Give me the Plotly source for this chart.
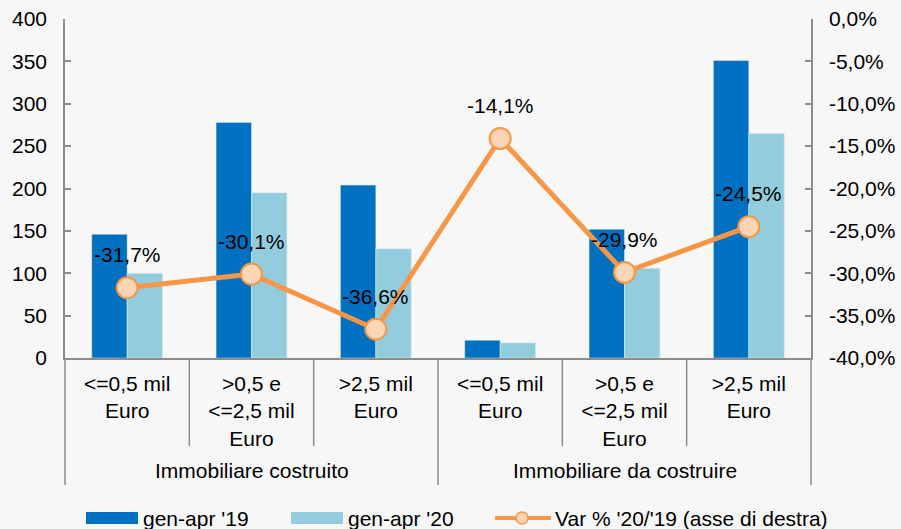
import plotly.graph_objects as go

# ---- data ----
groups = ["Immobiliare costruito", "Immobiliare da costruire"]
group_sizes = [3, 3]
subcats = ["<=0,5 mil<br>Euro", ">0,5 e<br><=2,5 mil<br>Euro", ">2,5 mil<br>Euro",
           "<=0,5 mil<br>Euro", ">0,5 e<br><=2,5 mil<br>Euro", ">2,5 mil<br>Euro"]
vals_19 = [146, 278, 204, 21, 152, 351]
vals_20 = [100, 195, 129, 18, 106, 265]
var_pct = [-31.7, -30.1, -36.6, -14.1, -29.9, -24.5]
left_ticks = [0, 50, 100, 150, 200, 250, 300, 350, 400]
right_ticks = [0, -5, -10, -15, -20, -25, -30, -35, -40]

name_19 = "gen-apr '19"
name_20 = "gen-apr '20"
name_var = "Var % '20/'19 (asse di destra)"

def fmt_pct(v):
    return f"{v:.1f}%".replace(".", ",")

x_idx = list(range(len(subcats)))

FONT = "Liberation Sans, Arial, sans-serif"
FS = 21
AX = "#8C8C8C"
DARK = "#0070C0"
LIGHT = "#93CDDD"
ORANGE = "#F79646"
PEACH = "#FCD5B4"
BG = "#F7F7F7"

# plot-area geometry (px) used to convert legend/decoration positions to paper coords
L, R, T, B = 65, 90, 19, 171
W_FIG, H_FIG = 901, 529
PW = W_FIG - L - R
PH = H_FIG - T - B

def px(xp):
    return (xp - L) / PW

def py(yp):
    return (H_FIG - B - yp) / PH

fig = go.Figure()
fig.add_trace(go.Bar(x=x_idx, y=vals_19, name=name_19, marker_color=DARK, yaxis="y"))
fig.add_trace(go.Bar(x=x_idx, y=vals_20, name=name_20, marker_color=LIGHT, yaxis="y"))
fig.add_trace(go.Scatter(
    x=x_idx, y=var_pct, name=name_var, yaxis="y2", mode="lines+markers",
    line=dict(color=ORANGE, width=5),
    marker=dict(size=21, color=PEACH, line=dict(color=ORANGE, width=2)),
))

# data labels for the line
for xi, v in zip(x_idx, var_pct):
    fig.add_annotation(x=xi, y=v, xref="x", yref="y2", text=fmt_pct(v),
                       showarrow=False, yshift=33,
                       font=dict(family=FONT, size=FS, color="#000000"))

# category separators (inner and group dividers)
n = len(subcats)
bounds = [0]
for s in group_sizes:
    bounds.append(bounds[-1] + s)
for i in range(1, n):
    if i not in bounds:
        fig.add_shape(type="line", xref="paper", yref="paper", x0=i / n, x1=i / n,
                      y0=0, y1=py(446), line=dict(color=AX, width=1.5))
for b in bounds:
    fig.add_shape(type="line", xref="paper", yref="paper", x0=b / n, x1=b / n,
                  y0=0, y1=py(485), line=dict(color=AX, width=1.5))

# group labels
for g, b0, b1 in zip(groups, bounds[:-1], bounds[1:]):
    fig.add_annotation(x=(b0 + b1) / 2 / n, y=py(470), xref="paper", yref="paper",
                       text=g, showarrow=False, xanchor="center", yanchor="middle",
                       font=dict(family=FONT, size=FS, color="#000000"))

# legend (drawn as keys + text to match the original's wide swatches)
LEG_Y = 518
for name, color, x0 in [(name_19, DARK, 86), (name_20, LIGHT, 291)]:
    fig.add_shape(type="rect", xref="paper", yref="paper",
                  x0=px(x0), x1=px(x0 + 52), y0=py(LEG_Y - 6), y1=py(LEG_Y + 6),
                  fillcolor=color, line=dict(width=0))
    fig.add_annotation(x=px(x0 + 55), y=py(LEG_Y), xref="paper", yref="paper",
                       text=name, showarrow=False, xanchor="left", yanchor="middle",
                       font=dict(family=FONT, size=FS, color="#000000"))
fig.add_shape(type="line", xref="paper", yref="paper",
              x0=px(495), x1=px(551), y0=py(LEG_Y), y1=py(LEG_Y),
              line=dict(color=ORANGE, width=4))
fig.add_shape(type="circle", xref="paper", yref="paper",
              xsizemode="pixel", ysizemode="pixel",
              xanchor=px(522), yanchor=py(LEG_Y),
              x0=-6, x1=6, y0=-6, y1=6,
              fillcolor=PEACH, line=dict(color=ORANGE, width=1.5))
fig.add_annotation(x=px(553), y=py(LEG_Y), xref="paper", yref="paper",
                   text=name_var, showarrow=False, xanchor="left", yanchor="middle",
                   font=dict(family=FONT, size=FS, color="#000000"))

fig.update_layout(
    width=W_FIG, height=H_FIG,
    margin=dict(l=L, r=R, t=T, b=B, autoexpand=False),
    paper_bgcolor=BG, plot_bgcolor=BG,
    font=dict(family=FONT, size=FS, color="#000000"),
    barmode="group", bargap=0.43, bargroupgap=0,
    showlegend=False,
    xaxis=dict(range=[-0.5, n - 0.5], tickvals=x_idx, ticktext=subcats,
               showline=True, linecolor=AX, linewidth=1.5, ticks="",
               showgrid=False, zeroline=False, ticklabelstandoff=6, automargin=False,
               tickfont=dict(family=FONT, size=FS, color="#000000")),
    yaxis=dict(range=[0, 400], tickvals=left_ticks, ticktext=[str(t) for t in left_ticks],
               showline=True, linecolor=AX, linewidth=1.5, ticks="inside", ticklen=6,
               tickcolor=AX, tickwidth=1.5, showgrid=False, zeroline=False,
               ticklabelstandoff=12, automargin=False,
               tickfont=dict(family=FONT, size=FS, color="#000000")),
    yaxis2=dict(range=[-40, 0], overlaying="y", side="right",
                tickvals=right_ticks, ticktext=[fmt_pct(t) for t in right_ticks],
                showline=True, linecolor=AX, linewidth=1.5, ticks="inside", ticklen=6,
                tickcolor=AX, tickwidth=1.5, showgrid=False, zeroline=False,
                ticklabelstandoff=12, automargin=False,
                tickfont=dict(family=FONT, size=FS, color="#000000")),
)

fig.write_html("out.html", config={"displayModeBar": False},
               post_script="document.body.style.margin='0';"
                           "document.body.style.background='" + BG + "';")
